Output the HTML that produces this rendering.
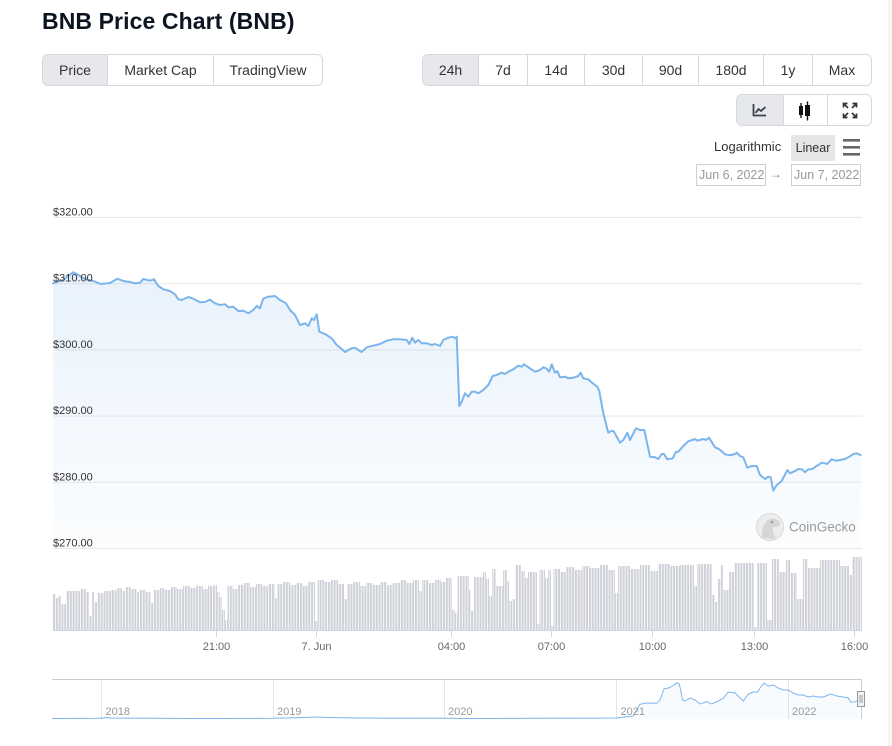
<!DOCTYPE html>
<html><head><meta charset="utf-8">
<style>
*{box-sizing:border-box;margin:0;padding:0}
html,body{width:892px;height:746px;overflow:hidden;background:#fff;font-family:"Liberation Sans",sans-serif}
.abs{position:absolute}
.title{left:42px;top:8px;font-size:23px;font-weight:bold;color:#0d1421;letter-spacing:0.1px}
.grp{position:absolute;display:flex;border:1px solid #d5d8de;border-radius:6px;overflow:hidden;background:#fff}
.grp div{display:flex;align-items:center;justify-content:center;font-size:14px;color:#333;border-left:1px solid #d5d8de;height:100%}
.grp div:first-child{border-left:none}
.grp .on{background:#e6e8ec}
.strip{left:888px;top:0;width:4px;height:746px;background:#f4f4f5}
.lbl{font-size:13px;color:#333}
.date{position:absolute;border:1px solid #cfcfcf;font-size:12.5px;color:#999;height:22px;line-height:20px;padding-left:2px;white-space:nowrap;overflow:hidden}
</style></head><body>
<div class="abs title">BNB Price Chart (BNB)</div>

<div class="grp" style="left:42px;top:54px;width:281px;height:32px">
<div class="on" style="width:64px">Price</div>
<div style="width:106px">Market Cap</div>
<div style="width:109px">TradingView</div>
</div>

<div class="grp" style="left:422px;top:54px;width:450px;height:32px">
<div class="on" style="width:55px">24h</div>
<div style="width:49px">7d</div>
<div style="width:57px">14d</div>
<div style="width:58px">30d</div>
<div style="width:56px">90d</div>
<div style="width:65px">180d</div>
<div style="width:49px">1y</div>
<div style="width:59px">Max</div>
</div>

<div class="grp" style="left:736px;top:94px;width:136px;height:32px">
<div class="on" style="width:46px"></div>
<div style="width:44px"></div>
<div style="width:44px"></div>
</div>

<div class="abs lbl" style="left:714px;top:139px">Logarithmic</div>
<div class="abs" style="left:791px;top:135px;width:44px;height:26px;background:#e6e6e6;font-size:12.5px;color:#333;line-height:26px;text-align:center">Linear</div>

<div class="date" style="left:696px;top:164px;width:70px">Jun 6, 2022</div>
<div class="abs" style="left:770px;top:167px;font-size:12px;color:#888">→</div>
<div class="date" style="left:791px;top:164px;width:70px">Jun 7, 2022</div>

<div class="abs strip"></div>

<svg class="abs" style="left:0;top:0" width="892" height="746" viewBox="0 0 892 746" xmlns="http://www.w3.org/2000/svg">
<defs>
<linearGradient id="fg" x1="0" y1="217" x2="0" y2="548" gradientUnits="userSpaceOnUse">
<stop offset="0" stop-color="#7cb5ec" stop-opacity="0.2"/>
<stop offset="1" stop-color="#7cb5ec" stop-opacity="0.03"/>
</linearGradient>
<pattern id="bars" patternUnits="userSpaceOnUse" x="53" y="0" width="2.806" height="746">
<rect x="0" y="0" width="2" height="746" fill="#cfd1d9"/>
</pattern>
</defs>

<!-- icons -->
<g stroke="#3c4250" stroke-width="1.8" fill="none" stroke-linejoin="round">
<path d="M753.5,104 V115.5 H766"/>
<path d="M755.5,113 L758.5,109 L761,111 L765.5,107"/>
</g>
<g fill="#111" stroke="#111">
<line x1="801" y1="103" x2="801" y2="118" stroke-width="1.4"/>
<rect x="799" y="106" width="4" height="9" stroke="none"/>
<line x1="807.5" y1="101.5" x2="807.5" y2="120.5" stroke-width="1.4"/>
<rect x="805" y="105" width="5" height="11" stroke="none"/>
</g>
<g stroke="#333" stroke-width="1.7" fill="none">
<path d="M844,104 L848,108 M856,104 L852,108 M844,117 L848,113 M856,117 L852,113"/>
<path d="M843.5,107.5 V103.5 H847.5 M852.5,103.5 H856.5 V107.5 M843.5,113.5 V117.5 H847.5 M852.5,117.5 H856.5 V113.5"/>
</g>
<g fill="#666">
<rect x="843" y="139" width="17" height="2.6"/>
<rect x="843" y="146" width="17" height="2.6"/>
<rect x="843" y="153" width="17" height="2.6"/>
</g>

<!-- grid -->
<g stroke="#e9e9e9" stroke-width="1">
<line x1="53" y1="217.5" x2="862" y2="217.5"/>
<line x1="53" y1="283.7" x2="862" y2="283.7"/>
<line x1="53" y1="349.9" x2="862" y2="349.9"/>
<line x1="53" y1="416.1" x2="862" y2="416.1"/>
<line x1="53" y1="482.3" x2="862" y2="482.3"/>
<line x1="53" y1="548.5" x2="862" y2="548.5"/>
</g>

<!-- area fill -->
<path fill="url(#fg)" d="M53,283.3 L58,281.5 L63.3,280 L68,276 L73.3,272.3 L78.3,275 L85,279 L93.3,281 L100.7,284 L110,283 L117.3,278.7 L123.3,281 L130,282 L135,283.3 L140,282.7 L143.3,279 L150,280.7 L154,279.3 L158.3,286 L163.3,289.3 L170,291 L175,294.3 L178.3,299.3 L181.7,300 L188.3,297 L193.3,298.7 L200,302.3 L205,302 L210,299.7 L215,303.3 L220,305 L225,304.3 L228.3,307.3 L233.3,306.7 L238.3,311 L243.3,310.7 L248.3,313.3 L253.3,310 L256.7,306 L260,308.3 L263.3,298.7 L268.3,296.7 L275,296 L280,300 L286,303.3 L290,310 L295,315 L300,325 L305,323.3 L308.3,326 L311.7,318.3 L314,320 L316.7,314.3 L319.3,331.7 L325,334 L331.7,338.3 L336.7,345 L341.7,349 L345,352 L348.3,350 L351.7,348.3 L355,347.7 L358.3,350 L361.7,352 L366.7,347.3 L373.3,345.7 L380,344 L386.7,340.7 L393.3,339.3 L400,339.3 L406.7,340 L409.3,344 L412.3,337.7 L415,342.7 L418.3,340 L421.7,343.3 L426.7,343.3 L431.7,345 L435,344 L440,346 L443.3,340 L448.3,337.7 L452.7,336.7 L455,338.3 L456.7,336.7 L459.3,406 L461.7,401.7 L465,393.3 L468.3,396.7 L471.7,391.7 L475,391.7 L478.3,393.3 L483.3,390 L488.3,385 L492.7,376 L496.7,375 L501.7,372.7 L505,374 L508.3,371.7 L513.3,369.3 L518.3,365.7 L521.7,366.7 L524,364.3 L528.3,367.3 L535,371.7 L540,370 L543.3,367.3 L546.7,368.7 L549.3,371.7 L551.7,364.3 L555,372.7 L557.3,371 L560,377.3 L565,376.7 L568.3,378.3 L573.3,377.7 L578.3,376 L580.7,372.7 L583.3,378.3 L588.3,379.3 L592.7,383.3 L595,385 L597.3,386.7 L599.3,391 L603.3,413.3 L608.3,432.7 L611.7,430.7 L614,431.7 L620,442.7 L623.3,440 L627.3,432.7 L630,440 L636,428.3 L640,430 L644.3,430 L650,456.7 L655,457.3 L658.3,459 L661.7,454 L664,454 L667.3,459.3 L672.7,458.3 L676,451.7 L678.3,451.7 L683.3,446 L688.3,441.3 L695,439 L697.3,440.7 L703.3,439 L706,440 L709,437.7 L715,447.3 L719.3,449.3 L725,454.3 L730,455.3 L735,454 L736.7,452.7 L740,456 L743.3,457.3 L747.3,467.7 L751.7,466 L756.7,466 L760,475 L765,479 L768.3,476.7 L770.7,477.3 L773.3,490.7 L776.7,485 L781.7,481 L787.3,470 L790,473.3 L795,471 L798.3,469 L801.7,469.3 L805,472.3 L808.3,469.3 L811.7,469.3 L816.7,466 L821.7,462.7 L825,463.3 L827.3,464 L831.7,459.3 L836,460.7 L840,460 L845,459 L849.3,456.7 L853.3,454 L856.7,453.3 L860.7,455 L860.7,548.5 L53,548.5 Z"/>

<!-- watermark -->
<circle cx="770" cy="527" r="13.5" fill="#ededed" stroke="#d9d9d9" stroke-width="1"/>
<path d="M762,538 C762,528 764,520 771,519 C776,518 780,521 780,524 C780,527 776,527 773,527 C772,531 774,535 776,539 Z" fill="#d6d6d6"/>
<circle cx="772" cy="522" r="1.3" fill="#999"/>
<text x="789" y="531.5" font-family="Liberation Sans, sans-serif" font-size="13.5" fill="#9a9a9a">CoinGecko</text>

<!-- price line -->
<path fill="none" stroke="#7cb5ec" stroke-width="2" stroke-linejoin="round" stroke-linecap="round" d="M53,283.3 L58,281.5 L63.3,280 L68,276 L73.3,272.3 L78.3,275 L85,279 L93.3,281 L100.7,284 L110,283 L117.3,278.7 L123.3,281 L130,282 L135,283.3 L140,282.7 L143.3,279 L150,280.7 L154,279.3 L158.3,286 L163.3,289.3 L170,291 L175,294.3 L178.3,299.3 L181.7,300 L188.3,297 L193.3,298.7 L200,302.3 L205,302 L210,299.7 L215,303.3 L220,305 L225,304.3 L228.3,307.3 L233.3,306.7 L238.3,311 L243.3,310.7 L248.3,313.3 L253.3,310 L256.7,306 L260,308.3 L263.3,298.7 L268.3,296.7 L275,296 L280,300 L286,303.3 L290,310 L295,315 L300,325 L305,323.3 L308.3,326 L311.7,318.3 L314,320 L316.7,314.3 L319.3,331.7 L325,334 L331.7,338.3 L336.7,345 L341.7,349 L345,352 L348.3,350 L351.7,348.3 L355,347.7 L358.3,350 L361.7,352 L366.7,347.3 L373.3,345.7 L380,344 L386.7,340.7 L393.3,339.3 L400,339.3 L406.7,340 L409.3,344 L412.3,337.7 L415,342.7 L418.3,340 L421.7,343.3 L426.7,343.3 L431.7,345 L435,344 L440,346 L443.3,340 L448.3,337.7 L452.7,336.7 L455,338.3 L456.7,336.7 L459.3,406 L461.7,401.7 L465,393.3 L468.3,396.7 L471.7,391.7 L475,391.7 L478.3,393.3 L483.3,390 L488.3,385 L492.7,376 L496.7,375 L501.7,372.7 L505,374 L508.3,371.7 L513.3,369.3 L518.3,365.7 L521.7,366.7 L524,364.3 L528.3,367.3 L535,371.7 L540,370 L543.3,367.3 L546.7,368.7 L549.3,371.7 L551.7,364.3 L555,372.7 L557.3,371 L560,377.3 L565,376.7 L568.3,378.3 L573.3,377.7 L578.3,376 L580.7,372.7 L583.3,378.3 L588.3,379.3 L592.7,383.3 L595,385 L597.3,386.7 L599.3,391 L603.3,413.3 L608.3,432.7 L611.7,430.7 L614,431.7 L620,442.7 L623.3,440 L627.3,432.7 L630,440 L636,428.3 L640,430 L644.3,430 L650,456.7 L655,457.3 L658.3,459 L661.7,454 L664,454 L667.3,459.3 L672.7,458.3 L676,451.7 L678.3,451.7 L683.3,446 L688.3,441.3 L695,439 L697.3,440.7 L703.3,439 L706,440 L709,437.7 L715,447.3 L719.3,449.3 L725,454.3 L730,455.3 L735,454 L736.7,452.7 L740,456 L743.3,457.3 L747.3,467.7 L751.7,466 L756.7,466 L760,475 L765,479 L768.3,476.7 L770.7,477.3 L773.3,490.7 L776.7,485 L781.7,481 L787.3,470 L790,473.3 L795,471 L798.3,469 L801.7,469.3 L805,472.3 L808.3,469.3 L811.7,469.3 L816.7,466 L821.7,462.7 L825,463.3 L827.3,464 L831.7,459.3 L836,460.7 L840,460 L845,459 L849.3,456.7 L853.3,454 L856.7,453.3 L860.7,455"/>

<!-- y labels -->
<g font-family="Liberation Sans, sans-serif" font-size="11" fill="#333">
<text x="53" y="215.5">$320.00</text>
<text x="53" y="281.7">$310.00</text>
<text x="53" y="347.9">$300.00</text>
<text x="53" y="414.1">$290.00</text>
<text x="53" y="480.3">$280.00</text>
<text x="53" y="546.5">$270.00</text>
</g>

<!-- volume bars -->
<path fill="url(#bars)" d="M53,630 L53,594 L56,594 L56,598 L58.5,598 L58.5,596 L61,596 L61,604 L66,604 L66,591 L80,591 L80,589 L86,589 L86,592 L89,592 L89,616 L91.5,616 L91.5,592 L94,592 L94,602 L97,602 L97,593 L104,593 L104,591 L110,591 L110,590 L117,590 L117,588 L122,588 L122,591 L125,591 L125,587 L131,587 L131,589 L137,589 L137,592 L140,592 L140,590 L146,590 L146,592 L151,592 L151,603 L154,603 L154,590 L160,590 L160,588 L165,588 L165,590 L171,590 L171,587 L177,587 L177,589 L183,589 L183,586 L190,586 L190,588 L196,588 L196,586 L203,586 L203,589 L208,589 L208,586 L214,586 L214,585 L217,585 L217,592 L219.5,592 L219.5,597 L222,597 L222,610 L225,610 L225,620 L227.5,620 L227.5,586 L233,586 L233,589 L238,589 L238,585 L244,585 L244,583 L250,583 L250,587 L256,587 L256,584 L262,584 L262,586 L268,586 L268,584 L275,584 L275,598 L277.5,598 L277.5,584 L283,584 L283,582 L290,582 L290,585 L296,585 L296,583 L303,583 L303,586 L308,586 L308,582 L315,582 L315,621 L317.5,621 L317.5,580 L325,580 L325,582 L331,582 L331,580 L338,580 L338,584 L344,584 L344,599 L347,599 L347,584 L353,584 L353,582 L360,582 L360,586 L366,586 L366,583 L373,583 L373,585 L380,585 L380,582 L387,582 L387,585 L393,585 L393,583 L400,583 L400,580 L407,580 L407,583 L413,583 L413,580 L419,580 L419,591 L422,591 L422,580 L429,580 L429,583 L435,583 L435,580 L441,580 L441,582 L446,582 L446,578 L452,578 L452,610 L455,610 L455,613 L457.5,613 L457.5,576 L469,576 L469,590 L471,590 L471,611 L474,611 L474,577 L483,577 L483,572 L486,572 L486,579 L489,579 L489,596 L492,596 L492,569 L496,569 L496,586 L503,586 L503,570 L507,570 L507,581 L509,581 L509,601 L512,601 L512,599 L515,599 L515,565 L521,565 L521,571 L525,571 L525,578 L528,578 L528,572 L537,572 L537,624 L539.5,624 L539.5,570 L545,570 L545,578 L548,578 L548,570 L551,570 L551,626 L553.5,626 L553.5,569 L560,569 L560,572 L566,572 L566,567 L575,567 L575,570 L582,570 L582,566 L590,566 L590,568 L600,568 L600,565 L608,565 L608,570 L615,570 L615,593 L618,593 L618,566 L630,566 L630,569 L640,569 L640,565 L650,565 L650,571 L658,571 L658,564 L670,564 L670,566 L680,566 L680,565 L694,565 L694,586 L697,586 L697,564 L712,564 L712,595 L715,595 L715,602 L718,602 L718,579 L721,579 L721,565 L723,565 L723,590 L729,590 L729,572 L734,572 L734,563 L754.5,563 L754.5,627 L757,627 L757,563 L767,563 L767,620 L772,620 L772,559 L779,559 L779,572 L786,572 L786,560 L790,560 L790,573 L797,573 L797,599 L803,599 L803,559 L808,559 L808,568 L820,568 L820,560 L840,560 L840,566 L849,566 L849,575 L852,575 L852,557 L862,557 L862,630 Z"/>

<!-- x axis -->
<line x1="53" y1="630.5" x2="862" y2="630.5" stroke="#ccd6eb" stroke-width="1"/>
<g stroke="#ccd6eb" stroke-width="1">
<line x1="216.5" y1="630" x2="216.5" y2="637"/>
<line x1="316.5" y1="630" x2="316.5" y2="637"/>
<line x1="451.5" y1="630" x2="451.5" y2="637"/>
<line x1="551.5" y1="630" x2="551.5" y2="637"/>
<line x1="652.5" y1="630" x2="652.5" y2="637"/>
<line x1="754.5" y1="630" x2="754.5" y2="637"/>
<line x1="854.5" y1="630" x2="854.5" y2="637"/>
</g>
<g font-family="Liberation Sans, sans-serif" font-size="11" fill="#666" text-anchor="middle">
<text x="216.5" y="650">21:00</text>
<text x="316.5" y="650">7. Jun</text>
<text x="451.5" y="650">04:00</text>
<text x="551.5" y="650">07:00</text>
<text x="652.5" y="650">10:00</text>
<text x="754.5" y="650">13:00</text>
<text x="854.5" y="650">16:00</text>
</g>

<!-- navigator -->
<line x1="52" y1="679.5" x2="862" y2="679.5" stroke="#cccccc" stroke-width="1"/>
<g stroke="#e6e6e6" stroke-width="1">
<line x1="101.5" y1="680" x2="101.5" y2="719"/>
<line x1="273.5" y1="680" x2="273.5" y2="719"/>
<line x1="444.5" y1="680" x2="444.5" y2="719"/>
<line x1="616.5" y1="680" x2="616.5" y2="719"/>
<line x1="788.5" y1="680" x2="788.5" y2="719"/>
</g>
<line x1="861.5" y1="680" x2="861.5" y2="719" stroke="#cccccc" stroke-width="1"/>
<path fill="#7cb5ec" fill-opacity="0.05" d="M52,718.5 L616,718 L633,716 L640,704.3 L646.7,703 L656.7,703.3 L660,700 L664,689 L668.3,688 L672.7,686 L676.7,682.7 L679.3,684 L682.7,700 L685,701 L690,698 L695,700 L700,704 L706.7,701.7 L711.7,704 L718.3,701 L723.3,698 L728.3,692 L735,693 L739.3,697 L743.3,701 L748.3,694 L753.3,692 L757.7,692 L760,688 L764,683 L768.3,686 L773.3,685 L778.3,688 L783.3,690 L788.3,690 L793.3,693 L798.3,695 L803.3,695 L808.3,697 L813.3,696 L818.3,697 L823.3,697 L830.7,694 L836.7,696 L843.3,697 L848.3,698 L850.7,702 L855,702 L858.3,700 L858.3,719 L52,719 Z"/>
<path fill="none" stroke="#7cb5ec" stroke-width="1" d="M52,718.5 L101,718.3 L105,717.6 L112,718 L200,718.5 L273,718.3 L300,717.6 L315,717 L330,717.5 L360,718 L444,718.3 L470,718.5 L616,718 L633,716 L640,704.3 L646.7,703 L656.7,703.3 L660,700 L664,689 L668.3,688 L672.7,686 L676.7,682.7 L679.3,684 L682.7,700 L685,701 L690,698 L695,700 L700,704 L706.7,701.7 L711.7,704 L718.3,701 L723.3,698 L728.3,692 L735,693 L739.3,697 L743.3,701 L748.3,694 L753.3,692 L757.7,692 L760,688 L764,683 L768.3,686 L773.3,685 L778.3,688 L783.3,690 L788.3,690 L793.3,693 L798.3,695 L803.3,695 L808.3,697 L813.3,696 L818.3,697 L823.3,697 L830.7,694 L836.7,696 L843.3,697 L848.3,698 L850.7,702 L855,702 L858.3,700"/>
<g font-family="Liberation Sans, sans-serif" font-size="11" fill="#999">
<text x="105.5" y="715">2018</text>
<text x="277" y="715">2019</text>
<text x="448" y="715">2020</text>
<text x="620.5" y="715">2021</text>
<text x="792" y="715">2022</text>
</g>
<rect x="857.5" y="691.5" width="7" height="15" fill="#f2f2f2" stroke="#999" stroke-width="1"/>
<line x1="860" y1="695" x2="860" y2="703" stroke="#999" stroke-width="1"/>
<line x1="862" y1="695" x2="862" y2="703" stroke="#999" stroke-width="1"/>
</svg>
</body></html>
